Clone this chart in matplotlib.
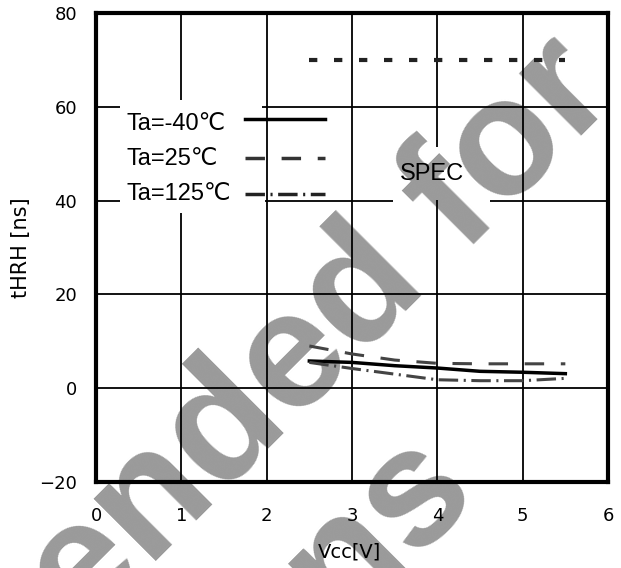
import numpy as np
import matplotlib
matplotlib.use("Agg")
import matplotlib.pyplot as plt

plt.rcParams['lines.scale_dashes'] = False

# 测试条件
vcc = [2.5, 3.0, 3.5, 4.0, 4.5, 5.0, 5.5]
t_m40 = [5.8, 5.5, 4.8, 4.3, 3.6, 3.4, 3.1]
t_25 = [9.0, 7.3, 6.0, 5.3, 5.2, 5.2, 5.2]
t_125 = [5.5, 4.2, 3.0, 1.8, 1.6, 1.6, 2.1]

spec_x = [2.5, 5.5]
spec_y = [70, 70]

labels = ["Ta=-40℃", "Ta=25℃", "Ta=125℃"]
xticks = [0, 1, 2, 3, 4, 5, 6]
yticks = [-20, 0, 20, 40, 60, 80]

sans = ['Liberation Sans', 'DejaVu Sans']

fig = plt.figure(figsize=(6.21, 5.68), dpi=100)
ax = fig.add_axes([96 / 621, 1 - 482 / 568, 512 / 621, 469 / 568])
ax.set_facecolor('none')

# 水印（两行分开放），放在坐标轴之下
wm = dict(rotation=45, rotation_mode='anchor', ha='center', va='baseline',
          fontsize=120, fontweight='bold', color='#9a9a9a',
          family='Liberation Sans', zorder=-1)
fig.text(0.013, -0.25, "Not recommended for", **wm)
fig.text(0.2045, -0.4965, "new designs", **wm)

ax.set_xlim(0, 6)
ax.set_ylim(-20, 80)


def hgrid(y, x0, x1):
    ax.hlines([y] * len(x0), x0, x1, color='black', lw=1.3, zorder=1)


def vgrid(x, y0, y1):
    ax.vlines([x] * len(y0), y0, y1, color='black', lw=1.3, zorder=1)


# 网格线（图例和SPEC处断开）
hgrid(20, [0], [6])
hgrid(0, [0], [6])
hgrid(60, [0, 1.95], [0.28, 6])
hgrid(40, [0, 1.98, 4.62], [0.28, 3.48, 6])
vgrid(1, [-20, 61.4], [37.4, 80])
vgrid(2, [-20], [80])
vgrid(3, [-20], [80])
vgrid(4, [-20, 51.4], [40.1, 80])
vgrid(5, [-20], [80])

dash25 = (0, (14, 12))
dashdot125 = (0, (14, 4, 1.5, 4))

ax.plot(vcc, t_m40, color='black', lw=2.5, zorder=3)
ax.plot(vcc, t_25, color='#444444', lw=2.2, ls=dash25, zorder=3)
ax.plot(vcc, t_125, color='#444444', lw=2.2, ls=dashdot125, zorder=3)

ax.plot(spec_x, spec_y, color='#222222', lw=3, ls=(0, (6, 12)), zorder=3)
ax.text(3.56, 44.4, "SPEC", fontsize=17, family=sans, va='baseline', zorder=4)

# 图例
styles = [('-', 'black'), (dash25, '#333333'), (dashdot125, '#222222')]
ly = [57.4, 49.1, 41.4]
tb = [55.05, 47.6, 40.1]
for lab, (ls, c), y, b in zip(labels, styles, ly, tb):
    ax.plot([1.75, 2.68], [y, y], color=c, lw=2.5, ls=ls, zorder=3)
    ax.text(0.36, b, lab, fontsize=17, family=sans, va='baseline', zorder=4)

for s in ax.spines.values():
    s.set_linewidth(3)

ax.set_xticks(xticks)
ax.set_yticks(yticks)
ax.tick_params(length=0, labelsize=13)
ax.tick_params(axis='y', pad=13.5)
ax.tick_params(axis='x', pad=18)

ax.set_xlabel("Vcc[V]", fontsize=14)
ax.set_ylabel("tHRH [ns]", fontsize=15)
ax.xaxis.set_label_coords(0.496, -0.128)
ax.yaxis.set_label_coords(-0.127, 0.5)

fig.savefig("out.png", dpi=100)
